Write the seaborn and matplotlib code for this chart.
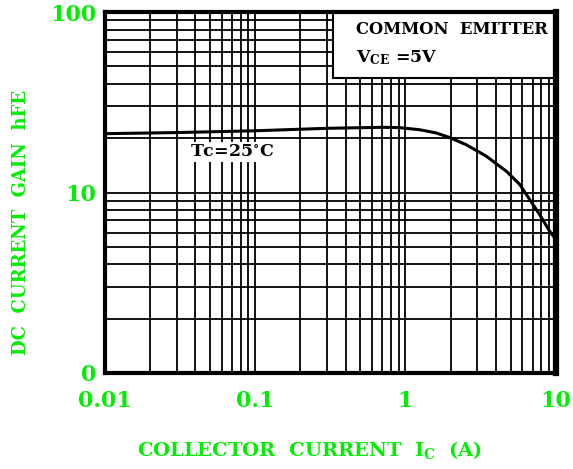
import numpy as np
import pandas as pd
import matplotlib
matplotlib.use('Agg')
import matplotlib.pyplot as plt
import seaborn as sns
from matplotlib.patches import Rectangle

# data
current_a = [0.01, 0.03, 0.1, 0.3, 0.7, 0.91, 1.24, 1.6, 1.96, 2.54, 3.45, 4.7,
             5.75, 6.7, 7.8, 9.1, 10.0]
hfe = [21.2, 21.5, 22.0, 22.7, 23.0, 22.9, 22.3, 21.4, 20.2, 18.4, 15.9, 13.1,
       11.1, 9.15, 7.55, 6.1, 5.5]
x_ticks = [0.01, 0.1, 1, 10]
x_tick_labels = ['0.01', '0.1', '1', '10']
y_ticks = [1, 10, 100]
y_tick_labels = ['0', '10', '100']

green = '#00ee00'
sns.set_style('white')
plt.rcParams['font.family'] = ['DejaVu Serif']
plt.rcParams['font.weight'] = 'bold'
plt.rcParams['text.color'] = 'black'
plt.rcParams['mathtext.fontset'] = 'dejavuserif'
plt.rcParams['mathtext.default'] = 'bf'

df = pd.DataFrame({'ic': current_a, 'hfe': hfe})

fig = plt.figure(figsize=(5.73, 4.69), dpi=100)
ax = fig.add_axes([0.183, 0.205, 0.787, 0.769])
ax.set_xscale('log')
ax.set_yscale('log')
ax.set_xlim(0.01, 10)
ax.set_ylim(1, 100)

ax.grid(True, which='both', color='black', linewidth=1.3)
ax.set_axisbelow(True)

# white legend box covering the grid in the upper right
box = Rectangle((0.505, 0.817), 0.5, 0.19, transform=ax.transAxes,
                facecolor='white', edgecolor='black', linewidth=1.5, zorder=2.5)
ax.add_patch(box)
ax.text(0.557, 0.953, 'COMMON  EMITTER', transform=ax.transAxes, fontsize=11.8,
        fontweight='bold', color='black', va='center', zorder=3)
ax.text(0.557, 0.875, r'V$_{\mathbf{CE}}$ =5V', transform=ax.transAxes, fontsize=12.5,
        fontweight='bold', color='black', va='center', zorder=3)

sns.lineplot(data=df, x='ic', y='hfe', color='black', linewidth=2.2, ax=ax, zorder=4)

ax.text(0.07, 16.8, 'Tc=25$^{\\circ}$C', fontsize=12.5, fontweight='bold',
        color='black', va='center', ha='center', zorder=4,
        bbox=dict(facecolor='white', edgecolor='none', pad=1))

ax.set_xticks(x_ticks)
ax.set_xticklabels(x_tick_labels)
ax.set_yticks(y_ticks)
ax.set_yticklabels(y_tick_labels)
ax.tick_params(axis='both', which='both', length=0, labelcolor=green, labelsize=16)
ax.tick_params(axis='x', pad=12)
ax.tick_params(axis='y', pad=6)
for lab in ax.get_xticklabels() + ax.get_yticklabels():
    lab.set_fontweight('bold')

ax.set_xlabel(r'COLLECTOR  CURRENT  I$_{\mathbf{C}}$  (A)', color=green, fontsize=14,
              fontweight='bold')
ax.xaxis.set_label_coords(0.455, -0.183, transform=ax.transAxes)
ax.set_ylabel('DC  CURRENT  GAIN  hFE', color=green, fontsize=13,
              fontweight='bold')
ax.yaxis.set_label_coords(-0.166, 0.418, transform=ax.transAxes)

for side in ['left', 'bottom', 'top']:
    ax.spines[side].set_linewidth(3)
    ax.spines[side].set_color('black')
ax.spines['right'].set_linewidth(4.5)
ax.spines['right'].set_color('black')

fig.savefig('out.png', dpi=100, facecolor='white')
